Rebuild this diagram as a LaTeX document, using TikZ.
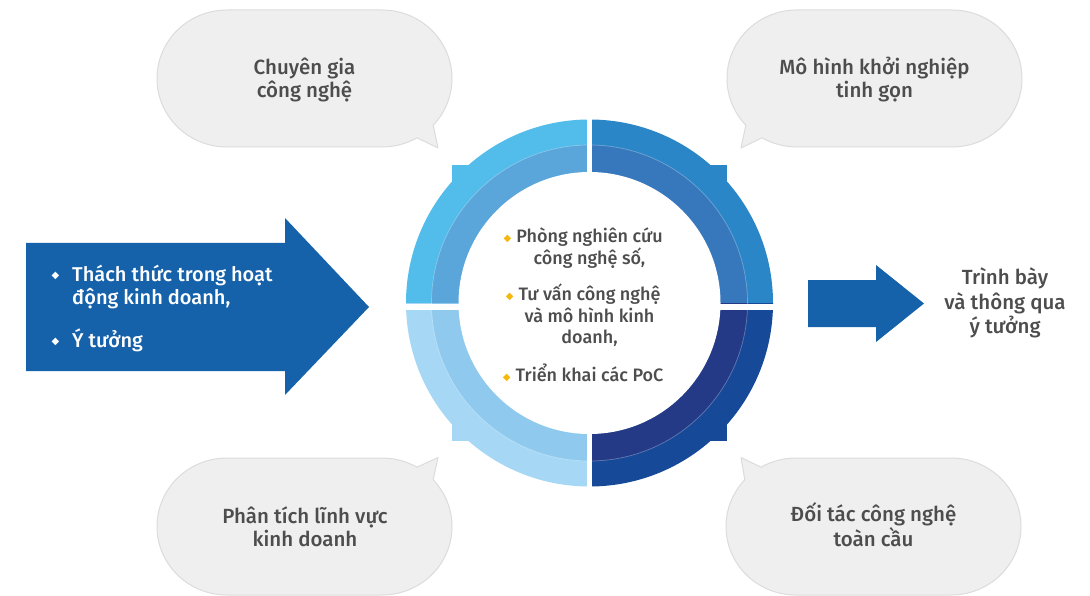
\documentclass[tikz,border=0pt]{standalone}
\usepackage{fontspec}
\setmainfont{Fira Sans Medium}
\newfontfamily\symfont{DejaVu Sans}
\definecolor{arrowblue}{HTML}{1662AA}
\definecolor{tlout}{HTML}{52BDEB}
\definecolor{tlin}{HTML}{5AA5DA}
\definecolor{trout}{HTML}{2A86C6}
\definecolor{trin}{HTML}{3778BD}
\definecolor{brout}{HTML}{174999}
\definecolor{brin}{HTML}{243A86}
\definecolor{blout}{HTML}{A6D8F5}
\definecolor{blin}{HTML}{8FCAEE}
\definecolor{bubfill}{HTML}{EFEFEF}
\definecolor{bubline}{HTML}{DCDCDC}
\definecolor{txtgray}{HTML}{4D4D4D}
\definecolor{gold}{HTML}{F5B80F}
\newcommand{\goldbul}{\llap{\textcolor{gold}{\raisebox{1.5pt}{\symfont\fontsize{10}{10}\selectfont ◆}}\hspace{5pt}}}
\newcommand{\whitebul}{\llap{\textcolor{white}{\raisebox{2.5pt}{\symfont\fontsize{10}{10}\selectfont ◆}}\hspace{13pt}}}
\tikzset{
  bubshape/.style={draw=bubline, line width=1pt, fill=bubfill, line join=round},
  bubtext/.style={inner sep=0pt, text=txtgray, align=center, font=\fontsize{20.5}{23}\selectfont},
  lefttext/.style={text=white, align=left, inner sep=0pt, anchor=west, font=\fontsize{20}{23}\selectfont},
  righttext/.style={text=txtgray, align=center, inner sep=0pt, font=\fontsize{20.5}{24.5}\selectfont},
  centertext/.style={text=txtgray, align=center, inner sep=0pt, font=\fontsize{18}{21.5}\selectfont},
}
\begin{document}
\begin{tikzpicture}[x=1pt, y=-1pt]
\useasboundingbox (0,0) rectangle (1090,596);
\fill[white] (0,0) rectangle (1090,596);

% bubbles (stadium shapes with tails)
\path[bubshape] (227,10) -- (382,10) arc[start angle=-90, end angle=43, x radius=70, y radius=68.5]
  -- (438,148) -- (417,137.8) arc[start angle=60, end angle=90, x radius=70, y radius=68.5]
  -- (227,147) arc[start angle=90, end angle=270, x radius=70, y radius=68.5] -- cycle;
\node[bubtext] (b1) at (304.5,80) {Chuyên gia\\công nghệ};

\path[bubshape] (952,10) -- (797,10) arc[start angle=270, end angle=137, x radius=70, y radius=68.5]
  -- (741,148) -- (762,137.8) arc[start angle=120, end angle=90, x radius=70, y radius=68.5]
  -- (952,147) arc[start angle=90, end angle=-90, x radius=70, y radius=68.5] -- cycle;
\node[bubtext] (b2) at (874.5,80) {Mô hình khởi nghiệp\\tinh gọn};

\path[bubshape] (227,595) -- (382,595) arc[start angle=90, end angle=-43, x radius=70, y radius=68.5]
  -- (438,457.5) -- (417,467.2) arc[start angle=-60, end angle=-90, x radius=70, y radius=68.5]
  -- (227,458) arc[start angle=-90, end angle=-270, x radius=70, y radius=68.5] -- cycle;
\node[bubtext] (b3) at (305,527) {Phân tích lĩnh vực\\kinh doanh};

\path[bubshape] (951,595) -- (796,595) arc[start angle=90, end angle=223, x radius=70, y radius=68.5]
  -- (741,457.5) -- (761,467.2) arc[start angle=240, end angle=270, x radius=70, y radius=68.5]
  -- (951,458) arc[start angle=-90, end angle=90, x radius=70, y radius=68.5] -- cycle;
\node[bubtext] (b4) at (873.5,524.5) {Đối tác công nghệ\\toàn cầu};

% ring
\begin{scope}[shift={(589.5,303)}, y=1pt]
  \foreach \ax/\ay/\co/\ci in {-200/200/tlout/tlin, 200/200/trout/trin, 200/-200/brout/brin, -200/-200/blout/blin} {
    \begin{scope}
      \clip (0,0) rectangle (\ax,\ay);
      \fill[\co] (0,0) circle[radius=183.5];
      \fill[\co] (-137.5,-137.5) rectangle (137.5,137.5);
      \fill[\ci] (0,0) circle[radius=158];
    \end{scope}
  }
  \draw[white, opacity=0.3, line width=0.7pt] (0,0) circle[radius=158];
  \fill[white] (0,0) circle[radius=131];
  \fill[white] (-190,-1) rectangle (190,-7);
  \fill[white] (-2.5,-190) rectangle (2,190);
\end{scope}

% center text
\node[centertext] (c1) at (589.5,248) {\goldbul Phòng nghiên cứu\\công nghệ số,};
\node[centertext] (c2) at (589.5,315.5) {\goldbul Tư vấn công nghệ\\và mô hình kinh\\doanh,};
\node[centertext] (c3) at (589.5,373) {\goldbul Triển khai các PoC};

% left arrow
\fill[arrowblue] (26,243) -- (285,243) -- (285,218) -- (369,307) -- (285,395) -- (285,371) -- (26,371) -- cycle;
\node[lefttext] (in1) at (72,287) {\whitebul Thách thức trong hoạt\\động kinh doanh,};
\node[lefttext] (in2) at (72,340) {\whitebul Ý tưởng};

% right arrow
\fill[arrowblue] (808,280) -- (876,280) -- (876,265) -- (924,303.5) -- (876,342) -- (876,327) -- (808,327) -- cycle;
\node[righttext] (out) at (1005,303) {Trình bày\\và thông qua\\ý tưởng};
\end{tikzpicture}
\end{document}
